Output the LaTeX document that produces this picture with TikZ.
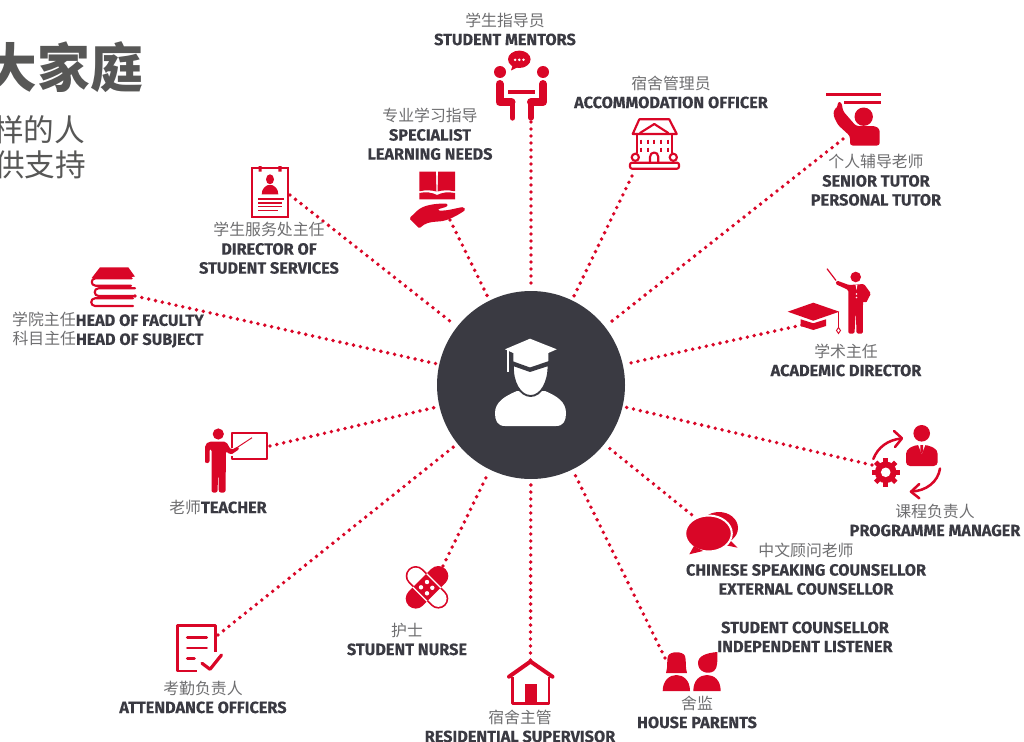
\documentclass[tikz,border=0pt]{standalone}
\usepackage{fontspec}
\setmainfont{Fira Sans}[BoldFeatures={FakeBold=0.25}]
\newfontfamily\cjk{Noto Sans CJK SC}
\definecolor{brandred}{HTML}{D90627}
\definecolor{hubgrey}{HTML}{3A3A42}
\definecolor{inkgrey}{HTML}{6E6E70}
\definecolor{titlegrey}{HTML}{575756}
\newcommand{\zh}[1]{{\cjk\fontsize{11.9pt}{14.25pt}\selectfont\color{inkgrey}#1}}
\newcommand{\en}[1]{{\bfseries\color{hubgrey}#1}}
\tikzset{
  lbl/.style={align=center,inner sep=0pt,yshift=0.75pt,font=\fontsize{12.2pt}{14.25pt}\selectfont},
  dotline/.style={brandred,line width=2.9pt,line cap=round,dash pattern=on 0pt off 5.25pt,shorten >=2pt},
  redline/.style={brandred,line width=1.6pt,line join=round,line cap=round}
}
\begin{document}
\begin{tikzpicture}[x=0.75pt,y=-0.75pt]
  \useasboundingbox (0,0) rectangle (1024,742);
  \node [inner sep=0pt,anchor=east,text=titlegrey,font=\cjk\bfseries\fontsize{39.5pt}{42pt}\selectfont] (title) at (143,67) {大家庭};
  \node [inner sep=0pt,anchor=east,text=titlegrey,font=\cjk\fontsize{23pt}{25pt}\selectfont] (subone) at (85.5,130) {样的人};
  \node [inner sep=0pt,anchor=east,text=titlegrey,font=\cjk\fontsize{23pt}{25pt}\selectfont] (subtwo) at (86.5,165) {供支持};

  \node [circle,fill=hubgrey,inner sep=0pt,minimum size=141pt] (hub) at (531,385) {};

  \coordinate (mentorsEnd) at (531,122);
  \coordinate (accomEnd) at (632,176);
  \coordinate (tutorEnd) at (843,139);
  \coordinate (academicEnd) at (802,325);
  \coordinate (programmeEnd) at (872,465);
  \coordinate (chineseEnd) at (697,519);
  \coordinate (parentsEnd) at (665,658);
  \coordinate (residentEnd) at (530.5,660);
  \coordinate (nurseEnd) at (443,566);
  \coordinate (attendEnd) at (218,635);
  \coordinate (teacherEnd) at (270,446);
  \coordinate (facultyEnd) at (135,296);
  \coordinate (directorEnd) at (290,195);
  \coordinate (specialistEnd) at (450,220);
  \foreach \e in {mentorsEnd,accomEnd,tutorEnd,academicEnd,programmeEnd,chineseEnd,parentsEnd,residentEnd,nurseEnd,attendEnd,teacherEnd,facultyEnd,directorEnd,specialistEnd}
    \draw [dotline] (\e) -- (hub);

  \fill [white] (505,349.3) -- (530,338.7) -- (556.7,349.3) -- (548.3,353) -- (548.3,363.3) -- (530,369) -- (513.3,363.3) -- (513.3,353) -- cycle;
  \draw [white,line width=1.5pt] (507.7,350) -- (507.7,372);
  \fill [white] (505,426) .. controls (497,426) and (495,420) .. (495,413) .. controls (495,402) and (505,396) .. (517,391) -- (545,391) .. controls (557,396) and (566,402) .. (566,413) .. controls (566,420) and (564,426) .. (556,426) -- cycle;
  \fill [white,draw=hubgrey,line width=1.4pt] (513,365) -- (530,371) -- (548.5,365) .. controls (549,382) and (541,396) .. (530.7,396) .. controls (520,396) and (512,382) .. (513,365) -- cycle;
  \fill [hubgrey] (512,361) -- (530,367.5) -- (549,361) -- (549,364) -- (530,371) -- (512,364) -- cycle;

  \fill [brandred] (519.3,59.3) ellipse [x radius=11.3,y radius=8.7];
  \fill [brandred] (513,64) -- (511,70.5) -- (520,66) -- cycle;
  \foreach \dx in {-4.2,0,4.2}
    \fill [white] (519.3+\dx,59.8) circle [radius=1.4];
  \fill [brandred] (500,72) circle [radius=6];
  \fill [brandred] (543,72) circle [radius=6];
  \draw [brandred,line width=6pt,line cap=round,line join=round] (499.5,84) -- (499.5,102) -- (511.5,102);
  \draw [brandred,line width=4pt,line cap=round,line join=round] (503,103) -- (512.5,103) -- (512.5,118);
  \draw [brandred,line width=6pt,line cap=round,line join=round] (543,84) -- (543,102) -- (531,102);
  \draw [brandred,line width=4pt,line cap=round,line join=round] (540,103) -- (531,103) -- (531,118);
  \fill [brandred] (508,90) rectangle (535,94);

  \draw [redline] (639.3,119.3) -- (669.3,119.3) -- (676.7,134) -- (632.7,134) -- cycle;
  \draw [redline] (640,133) -- (654.3,124) -- (668.3,133);
  \draw [redline] (637.3,134) -- (637.3,153);
  \draw [redline] (671.7,134) -- (671.7,153);
  \foreach \wx in {641,647.7,654.3,661,667.7}
    \draw [brandred,line width=1.5pt] (\wx,139.5) -- (\wx,144);
  \foreach \wx in {641,647.7,661,667.7}
    \draw [brandred,line width=1.5pt] (\wx,147.5) -- (\wx,152);
  \draw [redline] (650,162.7) -- (650,157) .. controls (650,151) and (658.3,151) .. (658.3,157) -- (658.3,162.7);
  \draw [redline] (635.3,157.3) circle [radius=3.6];
  \draw [redline] (673.3,157.3) circle [radius=3.6];
  \draw [redline,rounded corners=1.5pt] (630,162.7) rectangle (679,168.7);

  \fill [brandred] (826,93) rectangle (880.5,95.6);
  \fill [brandred] (844.3,101) rectangle (880.5,103.6);
  \fill [brandred] (863.7,116.7) circle [radius=9.2];
  \fill [brandred,rounded corners=2pt] (850,145.5) -- (879.7,145.5) -- (879.7,129) -- (875,126) -- (856,126) -- (843,111) -- (841.5,102) -- (837.5,102) -- (837.5,108) -- (834,109) -- (833.5,116) -- (838,125) -- (850,136) -- cycle;

  \fill [brandred] (855.7,277) circle [radius=5.3];
  \fill [brandred,rounded corners=1pt] (848.3,333.5) -- (848.3,290) -- (835.5,284) -- (836.7,280.5) -- (849,285) -- (864,284) -- (870.9,293.5) -- (866,303) -- (863,301) -- (862.9,333.5) -- (856.5,333.5) -- (855.8,310) -- (854.5,333.5) -- cycle;
  \draw [brandred,line width=0.9pt] (836,280.5) -- (827,268.7);
  \fill [white] (855.5,284.5) -- (857.5,284.5) -- (856.5,290) -- cycle;
  \fill [white] (856.5,294) circle [radius=0.8] (856.5,297.5) circle [radius=0.8];
  \fill [brandred] (787.7,311.7) -- (813.3,302.7) -- (839.3,311.7) -- (813.3,320.7) -- cycle;
  \fill [brandred] (800.7,319.3) -- (800.7,326) -- (813.3,330) -- (826,326) -- (826,319.3) -- (813.3,323.3) -- cycle;
  \draw [brandred,line width=0.7pt] (838.5,311.7) -- (838.5,328);
  \draw [brandred,line width=0.7pt] (838.5,327.5) -- (840.5,330.5) -- (838.5,333.5) -- (836.5,330.5) -- cycle;

  \fill [brandred] (921.7,433.3) circle [radius=8.3];
  \fill [brandred,rounded corners=3pt] (906,466) -- (906,450) -- (915,445) -- (928,445) -- (937.7,450) -- (937.7,466) -- cycle;
  \fill [white] (918,444.5) -- (921.7,454) -- (925.5,444.5) -- cycle;
  \fill [brandred] (920.3,445) -- (923.1,445) -- (923,451) -- (921.7,454) -- (920.4,451) -- cycle;
  \fill [brandred] (885.7,472.3) circle [radius=10.8];
  \foreach \a in {0,45,...,315}
    \draw [brandred,line width=3.6pt] (885.7,472.3) -- ++(\a:14.2);
  \fill [white] (885.7,472.3) circle [radius=4.8];
  \draw [brandred,line width=1.9pt,line cap=round,line join=round] (873.3,459) .. controls (878,447) and (888,440) .. (901,438.5);
  \draw [brandred,line width=1.9pt,line cap=round,line join=round] (894,431) -- (902,438.3) -- (895,447);
  \draw [brandred,line width=1.9pt,line cap=round,line join=round] (940,468.5) .. controls (938,482) and (926,491) .. (911.5,491.5);
  \draw [brandred,line width=1.9pt,line cap=round,line join=round] (919.3,484) -- (911,491.7) -- (919.3,498.3);

  \fill [brandred] (719,528) ellipse [x radius=19,y radius=16];
  \fill [brandred] (730,540) -- (737.5,547.7) -- (727,545.5) -- cycle;
  \fill [brandred,draw=white,line width=1.5pt] (708.5,533.5) ellipse [x radius=23.3,y radius=18];
  \fill [brandred] (694,546) -- (689.3,554.3) -- (703,551) -- cycle;

  \fill [brandred] (666,673) .. controls (668,667) and (666.5,660) .. (668,656) .. controls (670,651) and (683,651) .. (685,656) .. controls (686.5,660) and (685,667) .. (687,673) -- cycle;
  \fill [brandred] (662.7,691) .. controls (662.7,680) and (670,675) .. (676.3,675) .. controls (683,675) and (690,680) .. (690,691) -- cycle;
  \fill [brandred] (717.3,652) .. controls (717.3,660) and (718,668) .. (714,671) .. controls (708,675) and (698,672) .. (698,663) .. controls (698,656) and (706,653) .. (717.3,652) -- cycle;
  \fill [brandred] (693.3,691) .. controls (693.3,680) and (700,675) .. (707,675) .. controls (714,675) and (720.7,680) .. (720.7,691) -- cycle;

  \draw [brandred,line width=3pt,line cap=round,line join=round] (509,676.7) -- (530.5,661.5) -- (552.5,676.7);
  \draw [brandred,line width=1.9pt,line join=round] (512.3,677) -- (512.3,703.5) -- (549,703.5) -- (549,677);
  \fill [brandred] (525,684) rectangle (537,703);

  \draw [brandred,line width=15pt,line cap=round] (415.7,576) -- (438.3,598.6);
  \draw [white,line width=12.4pt,line cap=round] (415.7,576) -- (438.3,598.6);
  \draw [brandred,line width=15pt,line cap=round] (415.7,598.6) -- (438.3,576);
  \draw [white,line width=1pt] (426.7,573.7) -- (441,588);
  \draw [white,line width=1pt] (412.7,587) -- (427,601.3);
  \fill [white] (421,587.3) circle [radius=2.2] (432.3,587.8) circle [radius=2.2] (427,582) circle [radius=2.2] (427,593.3) circle [radius=2.2];

  \draw [brandred,line width=2pt,line join=round] (215.7,651.7) -- (215.7,625.7) -- (177.7,625.7) -- (177.7,671) -- (197,671);
  \draw [brandred,line width=2pt,line cap=round] (187.3,637.7) -- (206.7,637.7);
  \draw [brandred,line width=2pt,line cap=round] (187.3,648) -- (206.7,648);
  \draw [brandred,line width=2pt,line cap=round] (187.3,658.3) -- (194.5,658.3);
  \draw [brandred,line width=2.4pt,line cap=round,line join=round] (202,663.3) -- (210,669.3) -- (221.5,655);

  \fill [brandred] (218.3,434) circle [radius=5.6];
  \draw [brandred,line width=1.7pt,line join=round] (231.7,448) -- (231.7,432.7) -- (267.3,432.7) -- (267.3,458.7) -- (232,458.7) -- (232,456);
  \draw [brandred,line width=0.7pt] (231,451.5) -- (252,437.7);
  \fill [brandred,rounded corners=1.5pt] (205,461) -- (205,445) -- (209,441.5) -- (226,441.5) -- (231,450) -- (238,446.5) -- (239.5,449) -- (230.5,455) -- (226,451) -- (225.5,492.5) -- (218.8,492.5) -- (218.3,468) -- (217.5,492.5) -- (211.5,492.5) -- (211.5,449) -- (209.5,449) -- (209.5,463) -- (205,463) -- cycle;

  \fill [brandred] (100,267.3) -- (128.3,267.3) -- (135,276.7) -- (91.7,278) -- cycle;
  \draw [redline] (131.7,278.3) -- (95.5,278.3) .. controls (90.5,278.3) and (90.5,285.7) .. (95.5,285.7) -- (131,285.7);
  \draw [redline] (135,288.3) -- (98.5,288.3) .. controls (93.5,288.3) and (93.5,296) .. (98.5,296) -- (135,296);
  \draw [redline] (133,298.3) -- (95,298.3) .. controls (90,298.3) and (90,306) .. (95,306) -- (133,306);

  \draw [brandred,line width=1.3pt] (252.3,168.3) rectangle (288.3,217.3);
  \fill [brandred] (258.5,166) rectangle (261.7,171.5) (278.3,166) rectangle (281.5,171.5);
  \fill [brandred] (270,179.3) ellipse [x radius=4,y radius=5];
  \fill [brandred] (261.7,194.3) .. controls (261.7,188) and (266,186) .. (268,185) -- (272,185) .. controls (274,186) and (278.3,188) .. (278.3,194.3) -- cycle;
  \draw [brandred,line width=1pt] (258.3,199) -- (284,199);
  \draw [brandred,line width=1pt] (258.3,203) -- (282,203);
  \draw [brandred,line width=1pt] (258.3,206.7) -- (282,206.7);
  \draw [brandred,line width=1pt] (258.3,210.2) -- (278,210.2);

  \fill [brandred] (419.3,171.7) -- (435.8,171.7) .. controls (436,171.7) and (436.2,186) .. (436.5,191.5) .. controls (431,190) and (425,190) .. (421,191) -- (419.3,191) -- cycle;
  \fill [brandred] (455,171.7) -- (438.2,171.7) .. controls (438,171.7) and (437.8,186) .. (437.5,191.5) .. controls (443,190) and (449,190) .. (453,191) -- (455,191) -- cycle;
  \fill [brandred] (419.3,193) .. controls (426,191.5) and (432,192.5) .. (437,195) .. controls (442,192.5) and (448,191.5) .. (455,193) -- (455,199.3) -- (419.3,199.3) -- cycle;
  \fill [brandred,rounded corners=1pt] (409.3,218.3) -- (418,210) .. controls (425,205) and (435,203.5) .. (447.5,203.5) -- (447.5,206.5) .. controls (442,208) and (438,209.5) .. (438,210.5) .. controls (448,211) and (456,208) .. (463.5,207) -- (465.5,210) .. controls (458,215) and (448,221) .. (438,221.5) .. controls (430,222) and (425,223) .. (419.3,228.5) -- cycle;

  \node [lbl] (mentorsText) at (505,30) {\zh{学生指导员}\\\en{STUDENT MENTORS}};
  \node [lbl] (accomText) at (671,93) {\zh{宿舍管理员}\\\en{ACCOMMODATION OFFICER}};
  \node [lbl] (specialistText) at (430,135) {\zh{专业学习指导}\\\en{SPECIALIST}\\\en{LEARNING NEEDS}};
  \node [lbl] (tutorText) at (876,181) {\zh{个人辅导老师}\\\en{SENIOR TUTOR}\\\en{PERSONAL TUTOR}};
  \node [lbl] (directorText) at (269,249) {\zh{学生服务处主任}\\\en{DIRECTOR OF}\\\en{STUDENT SERVICES}};
  \node [lbl] (facultyText) at (108,331) {\zh{学院主任}\en{HEAD OF FACULTY}\\\zh{科目主任}\en{HEAD OF SUBJECT}};
  \node [lbl] (academicText) at (846,361) {\zh{学术主任}\\\en{ACADEMIC DIRECTOR}};
  \node [lbl] (teacherText) at (218,508) {\zh{老师}\en{TEACHER}};
  \node [lbl] (programmeText) at (935,521) {\zh{课程负责人}\\\en{PROGRAMME MANAGER}};
  \node [lbl] (chineseText) at (806,570) {\zh{中文顾问老师}\\\en{CHINESE SPEAKING COUNSELLOR}\\\en{EXTERNAL COUNSELLOR}};
  \node [lbl] (counsellorText) at (805,638) {\en{STUDENT COUNSELLOR}\\\en{INDEPENDENT LISTENER}};
  \node [lbl] (parentsText) at (697,713) {\zh{舍监}\\\en{HOUSE PARENTS}};
  \node [lbl] (nurseText) at (407,640) {\zh{护士}\\\en{STUDENT NURSE}};
  \node [lbl] (attendText) at (203,698) {\zh{考勤负责人}\\\en{ATTENDANCE OFFICERS}};
  \node [lbl] (residentText) at (520,727) {\zh{宿舍主管}\\\en{RESIDENTIAL SUPERVISOR}};
\end{tikzpicture}
\end{document}
